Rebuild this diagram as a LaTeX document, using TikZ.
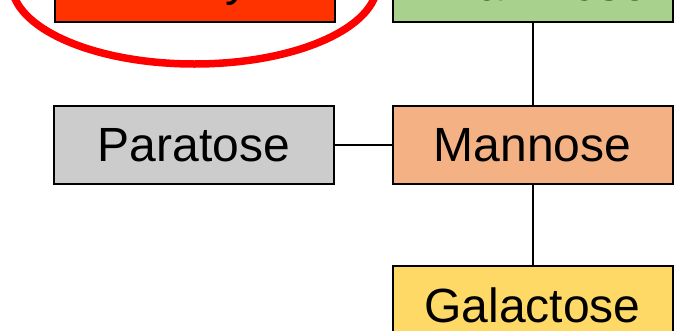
\documentclass[tikz,border=0pt]{standalone}
\usepackage{fontspec}
\setmainfont{Liberation Sans}
\definecolor{acetylred}{HTML}{FF3300}
\definecolor{rhamgreen}{HTML}{A9D18E}
\definecolor{paragray}{HTML}{CCCCCC}
\definecolor{mannorange}{HTML}{F4B183}
\definecolor{galyellow}{HTML}{FFD966}
\definecolor{ringred}{HTML}{FF0000}
\tikzset{
  sugar/.style={draw=black, line width=2pt, rectangle, minimum width=280pt, minimum height=78pt, inner sep=0pt, font=\fontsize{48}{50}\selectfont},
  link/.style={draw=black, line width=2pt}
}
\begin{document}
\begin{tikzpicture}[x=1pt, y=-1pt]
\useasboundingbox (0,0) rectangle (686,330);
\clip (0,0) rectangle (686,330);
\fill[white] (0,0) rectangle (686,330);
\node[sugar, fill=acetylred] (acetyl) at (194.5,-17) {Acetyl};
\node[sugar, fill=rhamgreen] (rhamnose) at (532.5,-17) {Rhamnose};
\node[sugar, fill=paragray] (paratose) at (194,145) {Paratose};
\node[sugar, fill=mannorange] (mannose) at (532.5,145) {Mannose};
\node[sugar, fill=galyellow] (galactose) at (532.5,305) {Galactose};
\draw[link] (paratose) -- (mannose);
\draw[link] (rhamnose) -- (mannose);
\draw[link] (mannose) -- (galactose);
\draw[ringred, line width=7.5pt] (acetyl.center) ellipse [x radius=183, y radius=81];
\end{tikzpicture}
\end{document}
